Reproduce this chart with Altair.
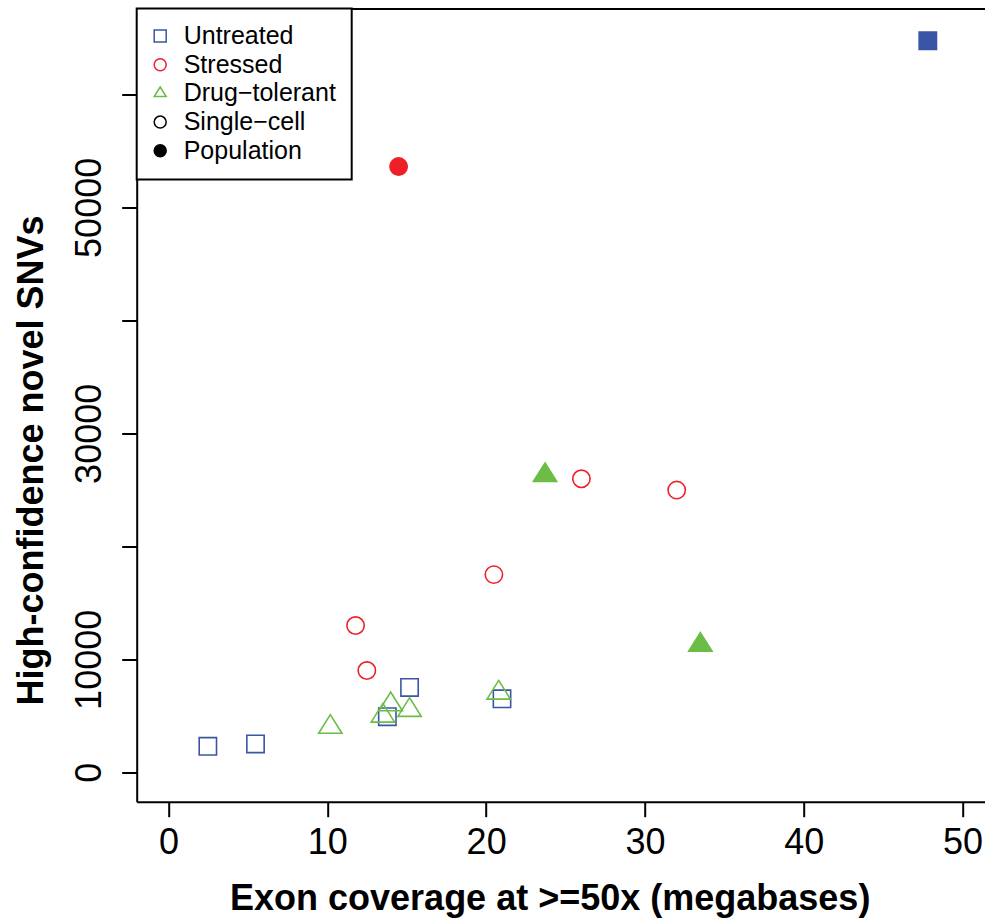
import altair as alt
import pandas as pd

BLUE = "#3A55A5"
RED = "#EE1F26"
GREEN = "#6BBD45"

# ---- data ----
untreated_single_x = [2.48, 5.48, 13.78, 15.18, 21.0]
untreated_single_y = [2300, 2510, 4920, 7510, 6510]
untreated_pop_x = [47.81]
untreated_pop_y = [64740]

stressed_single_x = [11.78, 12.49, 20.49, 26.0, 32.0]
stressed_single_y = [12990, 9010, 17500, 25980, 24980]
stressed_pop_x = [14.49]
stressed_pop_y = [53610]

drug_single_x = [10.19, 13.5, 13.99, 15.18, 20.79]
drug_single_y = [4000, 4990, 6000, 5500, 7030]
drug_pop_x = [23.71, 33.49]
drug_pop_y = [26280, 11260]

legend_keys = ["Untreated", "Stressed", "Drug\u2212tolerant", "Single\u2212cell", "Population"]
x_ticks = [0, 10, 20, 30, 40, 50]
y_ticks = [0, 10000, 20000, 30000, 40000, 50000, 60000]
y_tick_labels = [0, 10000, 30000, 50000]

rows = []
for grp, xs, ys, kind in [
    ("Untreated", untreated_single_x, untreated_single_y, "single"),
    ("Untreated", untreated_pop_x, untreated_pop_y, "pop"),
    ("Stressed", stressed_single_x, stressed_single_y, "single"),
    ("Stressed", stressed_pop_x, stressed_pop_y, "pop"),
    ("Drug\u2212tolerant", drug_single_x, drug_single_y, "single"),
    ("Drug\u2212tolerant", drug_pop_x, drug_pop_y, "pop"),
]:
    for xv, yv in zip(xs, ys):
        key = grp if kind == "single" else grp + " population"
        rows.append({"coverage": xv, "snvs": yv, "group": grp, "key": key})
df = pd.DataFrame(rows)

TRI = "M0,-1.07L1,0.53L-1,0.53Z"
pop_keys = [g + " population" for g in legend_keys[:3]]
domain = legend_keys + pop_keys
shape_range = ["square", "circle", TRI, "circle", "circle", "square", "circle", TRI]
stroke_range = [BLUE, RED, GREEN, "black", "black", BLUE, RED, GREEN]
fill_range = ["transparent", "transparent", "transparent", "transparent", "black", BLUE, RED, GREEN]

W = 848.3
H = 793.2
xscale = alt.Scale(domain=[-2, 51.41], nice=False, zero=False)
yscale = alt.Scale(domain=[-2600, 67600], nice=False, zero=False)

legend = alt.Legend(
    title=None, values=legend_keys, orient="top-left", offset=0,
    fillColor="white", strokeColor="black", padding=15,
    labelFont="Liberation Sans", labelFontSize=25, labelColor="black",
    labelOffset=11, symbolOffset=-4, rowPadding=2.7, symbolSize=144, symbolStrokeWidth=1.5,
)

label_expr = " || ".join(f"datum.value == {v}" for v in y_tick_labels)

points = alt.Chart(df).mark_point(strokeWidth=1.6, opacity=1).encode(
    x=alt.X("coverage:Q", scale=xscale, title="Exon coverage at >=50x (megabases)",
            axis=alt.Axis(values=x_ticks, format="d", tickSize=15, labelPadding=9,
                          labelFontSize=36, labelFont="Liberation Sans",
                          titleX=413, titleY=108, titleBaseline="alphabetic",
                          titleAlign="center")),
    y=alt.Y("snvs:Q", scale=yscale, title="High-confidence novel SNVs",
            axis=alt.Axis(values=y_ticks, format="d", tickSize=15, labelPadding=21.7,
                          labelAngle=270, labelAlign="center", labelBaseline="alphabetic",
                          labelExpr=f"({label_expr}) ? datum.label : ''",
                          labelFontSize=36, labelFont="Liberation Sans",
                          titleX=-94.7, titleY=451.5, titleBaseline="alphabetic",
                          titleAlign="center", titleAngle=270)),
    shape=alt.Shape("key:N", scale=alt.Scale(domain=domain, range=shape_range), legend=legend),
    stroke=alt.Stroke("key:N", scale=alt.Scale(domain=domain, range=stroke_range), legend=legend),
    fill=alt.Fill("key:N", scale=alt.Scale(domain=domain, range=fill_range), legend=legend),
    size=alt.Size("group:N", scale=alt.Scale(type="ordinal", domain=legend_keys[:3], range=[300, 300, 545]),
                  legend=None),
)

frame = alt.Chart(df).mark_point(opacity=0).encode(
    x=alt.X("coverage:Q", scale=xscale,
            axis=alt.Axis(orient="top", labels=False, ticks=False, title=None, grid=False, domain=True)),
    y=alt.Y("snvs:Q", scale=yscale, axis=None),
)

chart = alt.layer(points, frame).resolve_axis(x="independent", y="independent").properties(
    width=W, height=H,
    autosize=alt.AutoSizeParams(type="none"),
    padding={"left": 136.7, "top": 8.5, "right": 0, "bottom": 116.3},
).configure_view(stroke=None).configure_axis(
    grid=False, domainColor="black", domainWidth=2, tickColor="black", tickWidth=2,
    labelColor="black", titleColor="black", titleFont="Liberation Sans",
    titleFontSize=36, titleFontWeight="bold",
).configure_legend(strokeWidth=2)

chart.save("out.html", embed_options={"renderer": "svg", "actions": False})
